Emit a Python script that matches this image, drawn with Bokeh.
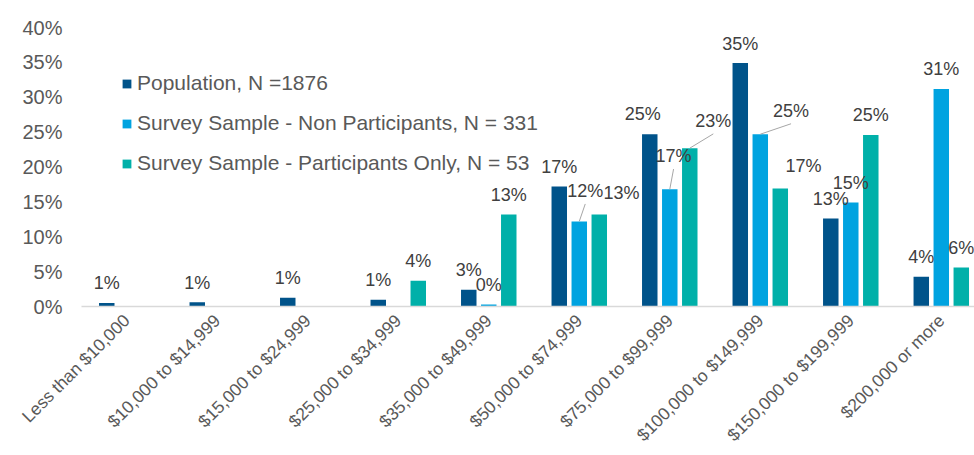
import math
from bokeh.plotting import figure
from bokeh.models import (ColumnDataSource, LabelSet, Legend, LegendItem, FixedTicker,
                          Range1d, PrintfTickFormatter)
from bokeh.core.properties import value
from bokeh.embed import file_html
from bokeh.resources import INLINE

categories = ["Less than $10,000", "$10,000 to $14,999", "$15,000 to $24,999",
              "$25,000 to $34,999", "$35,000 to $49,999", "$50,000 to $74,999",
              "$75,000 to $99,999", "$100,000 to $149,999", "$150,000 to $199,999",
              "$200,000 or more"]
population = [0.5, 0.6, 1.25, 0.95, 2.4, 17.2, 24.7, 34.9, 12.6, 4.25]
non_participants = [0, 0, 0, 0, 0.3, 12.2, 16.8, 24.7, 14.9, 31.2]
participants = [0, 0, 0, 3.7, 13.2, 13.2, 22.7, 16.9, 24.6, 5.6]
population_labels = ["1%", "1%", "1%", "1%", "3%", "17%", "25%", "35%", "13%", "4%"]
non_participant_labels = ["", "", "", "", "0%", "12%", "17%", "25%", "15%", "31%"]
participant_labels = ["", "", "", "4%", "13%", "13%", "23%", "17%", "25%", "6%"]
series_names = ["Population, N =1876",
                "Survey Sample - Non Participants, N = 331",
                "Survey Sample - Participants Only, N = 53"]
y_ticks = [0, 5, 10, 15, 20, 25, 30, 35, 40]

colors = ["#00538A", "#00A3E0", "#00B0A9"]
TEXT = "#404040"
AXIS_TEXT = "#595959"
FONT = "Liberation Sans"

# label placement tweaks (category units, percent units, leader line?)
DEFAULT_DY = 2.8
LEADER_GAP = 1.9
adjust = {
    (1, 5): (0.066, 4.4, True),
    (2, 5): (0.245, 3.1, False),
    (0, 6): (-0.077, 2.95, False),
    (1, 6): (0.042, 4.8, True),
    (2, 6): (0.26, 3.95, True),
    (1, 7): (0.34, 3.4, True),
    (2, 7): (0.256, 3.3, False),
}

p = figure(width=974, height=455, output_backend="svg", toolbar_location=None,
           x_range=Range1d(-0.5, 9.367), y_range=Range1d(0, 40),
           min_border_left=81, min_border_right=0, min_border_top=27,
           min_border_bottom=149)
p.outline_line_color = None
p.xgrid.visible = False
p.ygrid.visible = False
p.background_fill_color = "white"

offsets = [-0.221, 0.0, 0.221]
bar_w = 0.171
all_vals = [population, non_participants, participants]
all_labels = [population_labels, non_participant_labels, participant_labels]
renderers = []
for s, (vals, labs) in enumerate(zip(all_vals, all_labels)):
    xs = [i + offsets[s] for i in range(len(categories))]
    src = ColumnDataSource(dict(x=xs, top=vals))
    r = p.vbar(x="x", top="top", width=bar_w, source=src, fill_color=colors[s],
               line_color=None)
    renderers.append(r)
    lx, ly, lt = [], [], []
    sx0, sy0, sx1, sy1 = [], [], [], []
    for i, (x, v, t) in enumerate(zip(xs, vals, labs)):
        if not t:
            continue
        dx, dy, leader = adjust.get((s, i), (0.0, DEFAULT_DY, False))
        lx.append(x + dx)
        ly.append(v + dy)
        lt.append(t)
        if leader:
            sx0.append(x); sy0.append(v)
            sx1.append(x + dx); sy1.append(v + dy - LEADER_GAP)
    if sx0:
        p.segment(x0=sx0, y0=sy0, x1=sx1, y1=sy1, line_color="#A6A6A6", line_width=1)
    lsrc = ColumnDataSource(dict(x=lx, y=ly, t=lt))
    p.add_layout(LabelSet(x="x", y="y", text="t", source=lsrc, text_align="center",
                          text_baseline="middle", text_font=value(FONT),
                          text_font_size=value("18px"), text_color=TEXT))

legend = Legend(items=[LegendItem(label=n, renderers=[r]) for n, r in zip(series_names, renderers)],
                location=(40, 131), orientation="vertical",
                border_line_color=None, background_fill_alpha=0,
                padding=0, margin=0, spacing=16, glyph_width=11, glyph_height=11,
                label_height=24, label_standoff=5,
                label_text_font=FONT, label_text_font_size="21px",
                label_text_color=AXIS_TEXT)
p.add_layout(legend, "center")

p.xaxis.ticker = FixedTicker(ticks=list(range(len(categories))))
p.xaxis.major_label_overrides = {i: c for i, c in enumerate(categories)}
p.xaxis.major_label_orientation = math.pi / 4
p.xaxis.axis_line_color = "#D9D9D9"
p.xaxis.axis_line_width = 1.5
p.xaxis.major_tick_line_color = None
p.xaxis.minor_tick_line_color = None
p.xaxis.major_tick_out = 0
p.xaxis.major_label_standoff = 11
p.xaxis.major_label_text_font = FONT
p.xaxis.major_label_text_font_size = "17.5px"
p.xaxis.major_label_text_color = AXIS_TEXT

p.yaxis.ticker = FixedTicker(ticks=y_ticks)
p.yaxis.formatter = PrintfTickFormatter(format="%d%%")
p.yaxis.axis_line_color = None
p.yaxis.major_tick_line_color = None
p.yaxis.minor_tick_line_color = None
p.yaxis.major_tick_out = 0
p.yaxis.major_label_standoff = 19
p.yaxis.major_label_text_font = FONT
p.yaxis.major_label_text_font_size = "20px"
p.yaxis.major_label_text_color = AXIS_TEXT

open("out.html", "w").write(file_html(p, INLINE))
